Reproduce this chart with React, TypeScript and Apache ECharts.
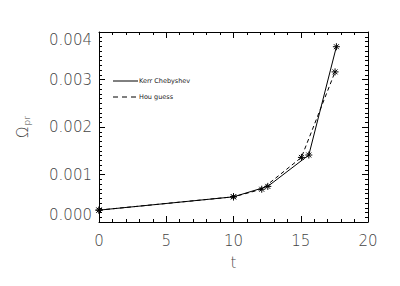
import React, { useEffect, useRef } from "react";
import * as echarts from "echarts";

const kerrT = [0, 10, 12.55, 15.6, 17.65];
const kerrOmega = [0.00025, 0.00053, 0.00075, 0.00141, 0.00369];
const houT = [0, 10, 12.1, 15.05, 17.55];
const houOmega = [0.00025, 0.00053, 0.00069, 0.00136, 0.00316];
const legendNames = ["Kerr Chebyshev", "Hou guess"];

const FONT = "DejaVu Sans";
const ASTERISK = "path://M0,-10L0,10M-10,0L10,0M-7,-7L7,7M-7,7L7,-7";

export default function App() {
  const ref = useRef<HTMLDivElement>(null);
  useEffect(() => {
    const chart = echarts.init(ref.current!, null, { renderer: "svg" });
    const axisLine = { show: true, onZero: false, lineStyle: { color: "#000", width: 1 } };
    const tick = { show: true, inside: true, length: 6, lineStyle: { color: "#000" } };
    const minor = { show: true, length: 3, lineStyle: { color: "#000" } };
    const labelStyle = { color: "#444", fontFamily: FONT, fontSize: 15, fontWeight: 300 };
    const mk = (t: number[], v: number[]) => t.map((x, i) => [x, v[i]]);
    chart.setOption({
      animation: false,
      backgroundColor: "#fff",
      grid: { left: 99, right: 32, top: 32, bottom: 64, containLabel: false },
      xAxis: [
        {
          type: "value", min: 0, max: 20, interval: 5, position: "bottom",
          axisLine, axisTick: tick, minorTick: { ...minor, splitNumber: 5 },
          splitLine: { show: false },
          axisLabel: { ...labelStyle, margin: 11 },
          name: "t", nameLocation: "middle", nameGap: 33,
          nameTextStyle: { ...labelStyle },
        },
        {
          type: "value", min: 0, max: 20, interval: 5, position: "top",
          axisLine, axisTick: tick, minorTick: { ...minor, splitNumber: 5 },
          splitLine: { show: false }, axisLabel: { show: false },
        },
      ],
      yAxis: [
        {
          type: "value", min: 0, max: 0.004, interval: 0.001, position: "left",
          axisLine, axisTick: tick, minorTick: { ...minor, splitNumber: 10 },
          splitLine: { show: false },
          axisLabel: {
            ...labelStyle, margin: 7,
            formatter: (v: number) => v.toFixed(3),
            verticalAlignMinLabel: "bottom",
            verticalAlignMaxLabel: "top",
          },
          name: "{a|Ω}{b|pr}", nameLocation: "middle", nameRotate: 90, nameGap: 68,
          nameTextStyle: {
            rich: {
              a: { ...labelStyle, fontSize: 15 },
              b: { ...labelStyle, fontSize: 9, padding: [7, 0, 0, 1] },
            },
          },
        },
        {
          type: "value", min: 0, max: 0.004, interval: 0.001, position: "right",
          axisLine, axisTick: tick, minorTick: { ...minor, splitNumber: 10 },
          splitLine: { show: false }, axisLabel: { show: false },
        },
      ],
      series: [
        {
          name: legendNames[0], type: "line", data: mk(kerrT, kerrOmega),
          symbol: ASTERISK, symbolSize: 7, showSymbol: true,
          lineStyle: { color: "#000", width: 1 },
          itemStyle: { color: "transparent", borderColor: "#000", borderWidth: 1 },
        },
        {
          name: legendNames[1], type: "line", data: mk(houT, houOmega),
          symbol: ASTERISK, symbolSize: 7, showSymbol: true,
          lineStyle: { color: "#000", width: 1, type: [4, 3] },
          itemStyle: { color: "transparent", borderColor: "#000", borderWidth: 1 },
        },
      ],
      graphic: [
        { type: "line", shape: { x1: 113, y1: 81, x2: 138, y2: 81 }, style: { stroke: "#000", lineWidth: 1 } },
        { type: "text", x: 139, y: 81, style: { text: legendNames[0], fill: "#222", font: `6.5px ${FONT}`, verticalAlign: "middle" } },
        { type: "line", shape: { x1: 113, y1: 97, x2: 138, y2: 97 }, style: { stroke: "#000", lineWidth: 1, lineDash: [5, 4] } },
        { type: "text", x: 139, y: 97, style: { text: legendNames[1], fill: "#222", font: `6.5px ${FONT}`, verticalAlign: "middle" } },
      ],
    });
    return () => chart.dispose();
  }, []);
  return <div ref={ref} style={{ width: 400, height: 286, position: "absolute", left: 0, top: 0 }} />;
}
